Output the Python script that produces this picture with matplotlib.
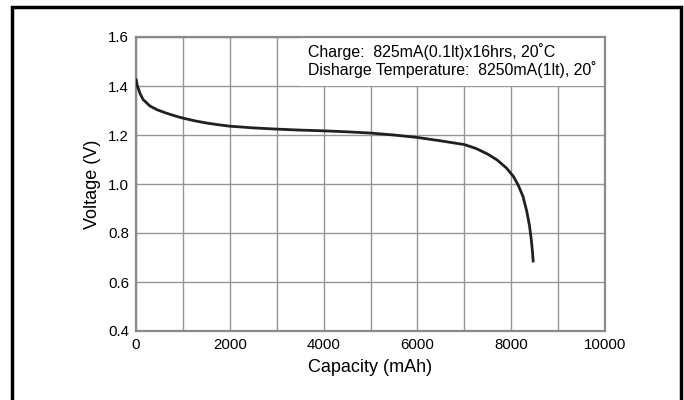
import numpy as np
import matplotlib
matplotlib.use("Agg")
import matplotlib.pyplot as plt
from matplotlib.patches import Rectangle

plt.rcParams['font.family'] = ['Liberation Sans', 'DejaVu Sans']

# discharge curve
capacity = [0, 30, 85, 150, 300, 450, 650, 850, 1000, 1250, 1500, 1750, 2000,
            2500, 3000, 3500, 4000, 4500, 5000, 5500, 6000, 6500, 7000, 7250,
            7500, 7700, 7900, 8050, 8150, 8250, 8330, 8390, 8430, 8455, 8470]
voltage = [1.43, 1.40, 1.37, 1.345, 1.318, 1.303, 1.289, 1.277, 1.269, 1.258,
           1.249, 1.242, 1.236, 1.229, 1.224, 1.220, 1.217, 1.213, 1.208, 1.200,
           1.190, 1.176, 1.161, 1.145, 1.122, 1.098, 1.065, 1.030, 0.995, 0.950,
           0.890, 0.830, 0.770, 0.720, 0.680]

xticks = [0, 2000, 4000, 6000, 8000, 10000]
yticks = [0.4, 0.6, 0.8, 1.0, 1.2, 1.4, 1.6]
note = "Charge:  825mA(0.1lt)x16hrs, 20\u02daC\nDisharge Temperature:  8250mA(1lt), 20\u02da"

fig = plt.figure(figsize=(6.84, 4.0), dpi=100)
ax = fig.add_axes([136 / 684, 69 / 400, 469 / 684, 294 / 400])

# outer black frame of the figure
fig.patches.append(Rectangle((12 / 684, -0.05), 669 / 684, 1.05 - 7 / 400,
                             transform=fig.transFigure, fill=False,
                             edgecolor='black', linewidth=2.5, clip_on=False))

ax.set_xlim(0, 10000)
ax.set_ylim(0.4, 1.6)
ax.set_yticks(yticks)
ax.set_xticks(xticks)
ax.set_xticks(np.arange(1000, 10000, 2000), minor=True)
ax.grid(True, which='both', color='#959595', linewidth=1.0)
ax.set_axisbelow(True)
ax.set_xticklabels([str(t) for t in xticks])
ax.set_yticklabels([f"{t:.1f}" for t in yticks])
ax.tick_params(which='both', length=0, labelsize=10.8, pad=5)

for s in ax.spines.values():
    s.set_color('#8a8a8a')
    s.set_linewidth(1.6)

# white box hiding the grid behind the note
ax.add_patch(Rectangle((3500, 1.4), 6500, 0.2, facecolor='white',
                       edgecolor='none', zorder=1.5))
ax.text(3660, 1.503, note, fontsize=11.4, va='center', ha='left',
        linespacing=1.1, zorder=3)

ax.plot(capacity, voltage, color='#231f20', linewidth=2.0, zorder=4,
        solid_capstyle='butt')

ax.set_xlabel("Capacity (mAh)", fontsize=13, labelpad=5)
ax.set_ylabel("Voltage (V)", fontsize=13, labelpad=5)

fig.savefig("out.png", dpi=100)
